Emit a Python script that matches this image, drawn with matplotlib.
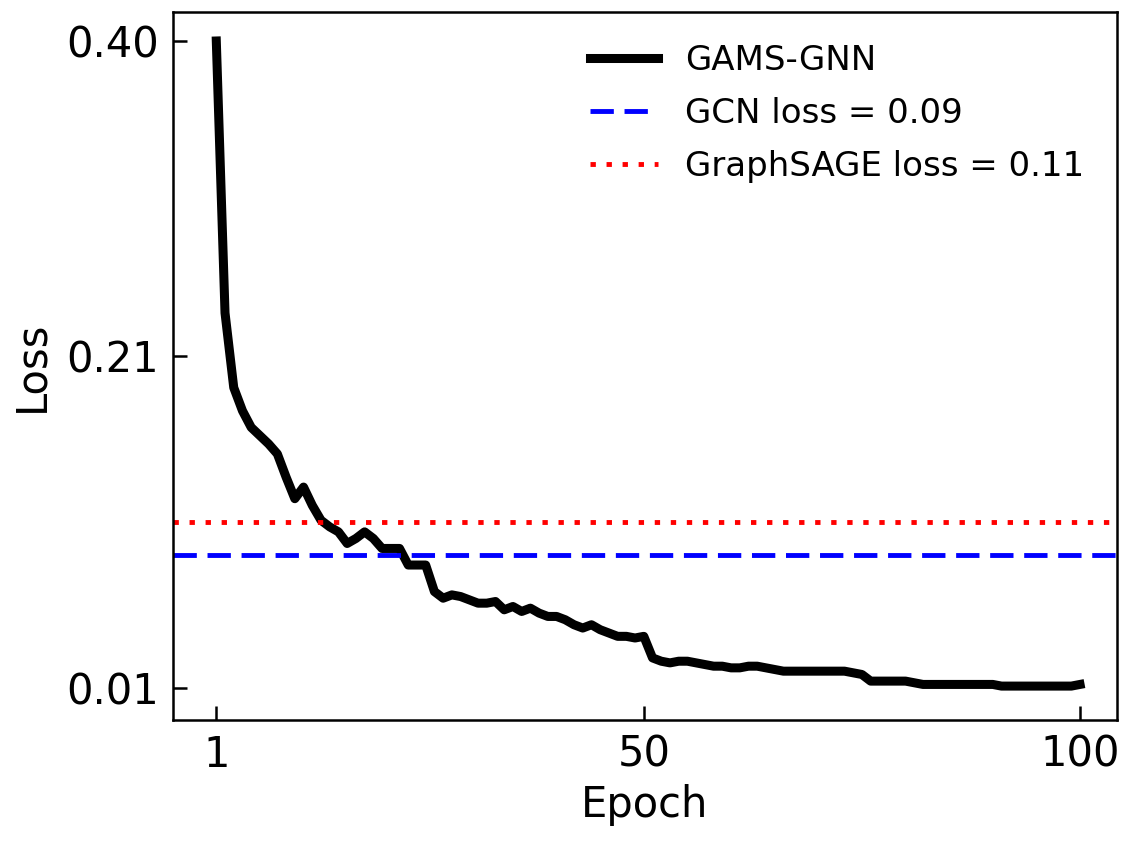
import matplotlib.pyplot as plt

# GAMS-GNN training loss
epochs = list(range(1, 101))
gams_loss = [
    0.400, 0.236, 0.191, 0.177, 0.167, 0.162, 0.157, 0.151, 0.137, 0.124,
    0.131, 0.120, 0.111, 0.107, 0.104, 0.097, 0.100, 0.104, 0.100, 0.094,
    0.094, 0.094, 0.084, 0.084, 0.084, 0.068, 0.064, 0.066, 0.065, 0.063,
    0.061, 0.061, 0.062, 0.057, 0.059, 0.056, 0.058, 0.055, 0.053, 0.053,
    0.051, 0.048, 0.046, 0.048, 0.045, 0.043, 0.041, 0.041, 0.040, 0.041,
    0.028, 0.026, 0.025, 0.026, 0.026, 0.025, 0.024, 0.023, 0.023, 0.022,
    0.022, 0.023, 0.023, 0.022, 0.021, 0.020, 0.020, 0.020, 0.020, 0.020,
    0.020, 0.020, 0.020, 0.019, 0.018, 0.014, 0.014, 0.014, 0.014, 0.014,
    0.013, 0.012, 0.012, 0.012, 0.012, 0.012, 0.012, 0.012, 0.012, 0.012,
    0.011, 0.011, 0.011, 0.011, 0.011, 0.011, 0.011, 0.011, 0.011, 0.012,
]
gcn_loss = 0.09
sage_loss = 0.11

xticks = [1, 50, 100]
yticks = [0.01, 0.21, 0.40]
ytick_labels = ["0.01", "0.21", "0.40"]

fig = plt.figure(figsize=(11.36, 8.43), dpi=100)
ax = fig.add_axes([0.152, 0.146, 0.831, 0.840])

ax.plot(epochs, gams_loss, color="black", lw=6.5, label="GAMS-GNN")
ax.axhline(gcn_loss, color="blue", ls=(0, (4.8, 2.2)), lw=3.5, label="GCN loss = 0.09")
ax.axhline(sage_loss, color="red", ls=(0, (1.1, 2.2)), lw=3.5, label="GraphSAGE loss = 0.11")

ax.set_xlim(-4, 104.2)
ax.set_ylim(-0.0094, 0.4176)
ax.set_xticks(xticks)
ax.set_yticks(yticks)
ax.set_yticklabels(ytick_labels)
ax.tick_params(direction="in", length=10, width=1.8, labelsize=30, pad=10)
for sp in ax.spines.values():
    sp.set_linewidth(1.8)

ax.set_xlabel("Epoch", fontsize=30, labelpad=6)
ax.set_ylabel("Loss", fontsize=30, labelpad=10)

ax.legend(loc="upper right", frameon=False, fontsize=24.5, handlelength=2.0,
          borderaxespad=0.55, labelspacing=0.58)

plt.savefig("out.png", dpi=100)
